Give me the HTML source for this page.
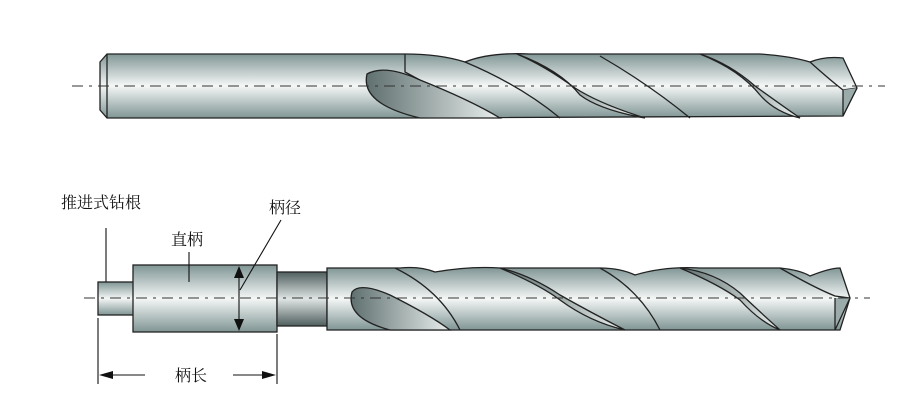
<!DOCTYPE html>
<html><head><meta charset="utf-8"><style>
body{margin:0;background:#fff}
svg{display:block}
text{font-family:"Liberation Serif","Noto Serif CJK SC","Noto Sans CJK SC",serif;font-size:16px;fill:#111}
</style></head><body>
<svg width="897" height="403" viewBox="0 0 897 403" xmlns="http://www.w3.org/2000/svg">
<defs>
<linearGradient id="g" x1="0" y1="0" x2="0" y2="1">
<stop offset="0" stop-color="#7f9594"/><stop offset="0.5" stop-color="#f4f7f6"/><stop offset="1" stop-color="#7f9594"/>
</linearGradient>
<linearGradient id="gd" x1="0" y1="0" x2="0" y2="1">
<stop offset="0" stop-color="#4f5f5e"/><stop offset="0.5" stop-color="#dfe5e4"/><stop offset="1" stop-color="#4f5f5e"/>
</linearGradient>
<linearGradient id="gf" x1="0" y1="0" x2="1" y2="0">
<stop offset="0" stop-color="#5f706f"/><stop offset="1" stop-color="#e8eeed"/>
</linearGradient>
</defs>
<g stroke="#222" stroke-width="1.3">
<path d="M100,62 L107,54 L405,54 Q440,54 465,62 Q490,52 530,54 L760,54 Q790,56 810,62 Q825,56 843,58 L857,88 L843,116 L405,118 L107,118 L100,110 Z" fill="url(#g)"/>
<line x1="107" y1="54" x2="107" y2="118"/>
<path d="M405,54 L405,72 L490,118" fill="none"/>
<path d="M367,74 Q385,64 420,80 Q470,100 500,118 L420,118 Q360,104 367,74 Z" fill="url(#gf)"/>
<path d="M465,62 Q520,85 560,118" fill="none"/>
<path d="M517,54 Q560,70 580,95 Q600,110 645,118 Q600,104 575,88 Q545,66 517,54 Z" fill="url(#gf)"/>
<path d="M600,56 Q650,85 690,118" fill="none"/>
<path d="M700,54 Q740,70 760,95 Q775,112 800,118 Q780,104 755,86 Q730,64 700,54 Z" fill="url(#gf)"/>
<path d="M810,62 Q830,80 843,90 L857,88" fill="none"/>
<path d="M843,90 L843,116 L857,88" fill="#9aabaa"/>
<rect x="98" y="282" width="36" height="33" fill="url(#g)"/>
<rect x="133" y="265" width="144" height="67" fill="url(#g)"/>
<rect x="277" y="272" width="50" height="54" fill="url(#gd)"/>
<path d="M327,268 L400,268 Q420,266 435,272 Q470,266 500,268 L600,268 Q620,268 635,275 Q665,266 700,268 L780,268 Q800,270 810,276 Q830,268 840,268 L850,298 L840,330 L327,330 Z" fill="url(#g)"/>
<path d="M352,292 Q360,282 390,295 Q430,315 450,330 L390,330 Q345,318 352,292 Z" fill="url(#gf)"/>
<path d="M395,268 Q440,290 460,330" fill="none"/>
<path d="M500,268 Q540,285 560,300 Q590,322 625,330 Q590,312 560,295 Q530,275 500,268 Z" fill="url(#gf)"/>
<path d="M600,268 Q640,290 660,330" fill="none"/>
<path d="M680,268 Q720,285 740,300 Q760,322 780,330 Q760,312 740,293 Q715,272 680,268 Z" fill="url(#gf)"/>
<path d="M780,268 Q815,288 835,296 L850,298" fill="none"/>
<path d="M835,298 L835,330 L850,298" fill="#9aabaa"/>
</g>
<g stroke="#333" stroke-width="1" stroke-dasharray="11,6,3,6">
<line x1="72" y1="86" x2="885" y2="86"/>
<line x1="84" y1="298" x2="870" y2="298"/>
</g>
<g stroke="#111" stroke-width="1.1" fill="none">
<line x1="106" y1="228" x2="106" y2="282"/>
<line x1="189" y1="252" x2="189" y2="282"/>
<line x1="281" y1="220" x2="240" y2="290"/>
<line x1="239" y1="272" x2="239" y2="324"/>
<line x1="98" y1="318" x2="98" y2="384"/>
<line x1="277" y1="334" x2="277" y2="384"/>
<line x1="110" y1="375" x2="145" y2="375"/>
<line x1="233" y1="375" x2="266" y2="375"/>
</g>
<g fill="#111">
<path d="M239,266 L234,278 L244,278 Z"/>
<path d="M239,331 L234,319 L244,319 Z"/>
<path d="M99,375 L113,371 L113,379 Z"/>
<path d="M276,375 L262,371 L262,379 Z"/>
</g>
<text x="61" y="208">推进式钻根</text>
<text x="269" y="213">柄径</text>
<text x="171" y="245">直柄</text>
<text x="175" y="381">柄长</text>
</svg>
</body></html>
